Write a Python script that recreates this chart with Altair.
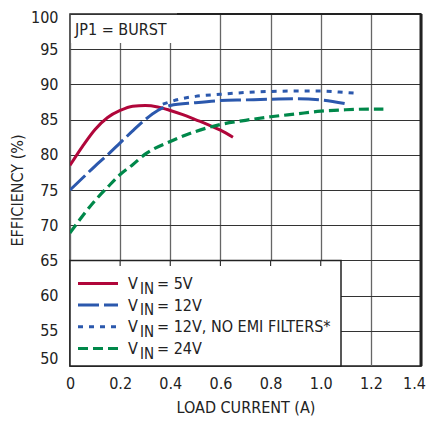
import altair as alt
import pandas as pd

# ---- data ----
red_x = [0, 0.05, 0.1, 0.15, 0.2, 0.25, 0.3, 0.35, 0.4, 0.45, 0.5, 0.55, 0.6, 0.65]
red_y = [78.5, 81.2, 83.6, 85.3, 86.3, 86.9, 87.0, 86.8, 86.3, 85.7, 85.0, 84.3, 83.5, 82.5]

b12_x = [0, 0.05, 0.1, 0.15, 0.2, 0.25, 0.3, 0.35, 0.4, 0.5, 0.6, 0.7, 0.8, 0.9, 1.0, 1.1]
b12_y = [75.0, 76.7, 78.4, 80.0, 81.7, 83.4, 85.0, 86.3, 87.0, 87.4, 87.7, 87.8, 87.9, 87.95, 87.8, 87.25]

emi_x = [0.37, 0.45, 0.5, 0.6, 0.7, 0.8, 0.9, 1.0, 1.1, 1.14]
emi_y = [87.2, 88.0, 88.3, 88.6, 88.85, 89.0, 89.05, 89.05, 88.85, 88.75]

g24_x = [0, 0.05, 0.1, 0.15, 0.2, 0.25, 0.3, 0.4, 0.5, 0.6, 0.7, 0.8, 0.9, 1.0, 1.1, 1.2, 1.25]
g24_y = [68.9, 71.3, 73.5, 75.4, 77.2, 78.6, 80.1, 81.9, 83.3, 84.3, 84.9, 85.4, 85.8, 86.2, 86.4, 86.5, 86.5]

x_ticks = [0, 0.2, 0.4, 0.6, 0.8, 1.0, 1.2, 1.4]
y_ticks = [50, 55, 60, 65, 70, 75, 80, 85, 90, 95, 100]
stub_ticks = [0.2, 0.4, 0.6, 0.8, 1.0]

legend_main = ["V", "V", "V", "V"]
legend_sub = ["IN", "IN", "IN", "IN"]
legend_rest = ["= 5V", "= 12V", "= 12V, NO EMI FILTERS*", "= 24V"]
box_title = "JP1 = BURST"

RED, BLUE, GREEN = "#B0063A", "#2B58AD", "#00884A"
FONT = "DejaVu Sans Condensed, Liberation Sans Narrow, sans-serif"
W, H = 351, 352

xsc = alt.Scale(domain=[0, 1.4], nice=False)
ysc = alt.Scale(domain=[50, 100], nice=False, zero=False)

x_axis = alt.Axis(values=x_ticks, title="LOAD CURRENT (A)",
                  labelExpr="datum.value == 0 ? '0' : format(datum.value, '.1f')",
                  grid=True, gridColor="#666666", gridWidth=1.3, ticks=False, domain=False,
                  labelFlush=False, labelOverlap=False,
                  labelOffset={"condition": [{"test": "datum.value == 1.4", "value": -7}],
                               "value": 0},
                  labelPadding=9, labelFontSize=16, labelFont=FONT, labelColor="#222",
                  titleFont=FONT, titleFontSize=16, titleFontWeight="normal", titleColor="#222",
                  titlePadding=8)
y_axis = alt.Axis(values=y_ticks, title="EFFICIENCY (%)",
                  grid=True, gridColor="#333333", gridWidth=1.2, ticks=False, domain=False,
                  labelOverlap=False, labelFlush=False,
                  labelPadding=12, labelFontSize=16, labelFont=FONT, labelColor="#222",
                  labelOffset={"condition": [{"test": "datum.value == 50", "value": -8},
                                             {"test": "datum.value == 100", "value": 3}],
                               "value": 0},
                  titleFont=FONT, titleFontSize=16, titleFontWeight="normal", titleColor="#222",
                  titleX=-53, titleY=H / 2, titleAngle=-90, titleAlign="center",
                  titleBaseline="middle")

X = lambda: alt.X("x:Q", scale=xsc, axis=x_axis)
Y = lambda: alt.Y("y:Q", scale=ysc, axis=y_axis)


def df(xs, ys):
    return pd.DataFrame({"x": xs, "y": ys})


one = pd.DataFrame({"_": [0]})

grid_layer = alt.Chart(df(red_x, red_y)).mark_point(opacity=0).encode(x=X(), y=Y())


def line(xs, ys, color, dash=None, width=3):
    kw = dict(color=color, strokeWidth=width, interpolate="monotone", clip=True)
    if dash:
        kw["strokeDash"] = dash
    return alt.Chart(df(xs, ys)).mark_line(**kw).encode(x=X(), y=Y())


red = line(red_x, red_y, RED)
b12 = line(b12_x, b12_y, BLUE, [21, 5])
emi = line(emi_x, emi_y, BLUE, [5, 6])
g24 = line(g24_x, g24_y, GREEN, [10, 5], 3.2)

# title box
tbox = alt.Chart(one).mark_rect(fill="white").encode(
    x=alt.value(1), x2=alt.value(107), y=alt.value(1), y2=alt.value(29))
ttext = alt.Chart(one).mark_text(text=box_title, font=FONT, fontSize=16, align="left",
                                 baseline="middle", color="#222").encode(
    x=alt.value(5), y=alt.value(16))

# legend box
lbox = alt.Chart(one).mark_rect(fill="white", stroke="#222", strokeWidth=1.5).encode(
    x=alt.value(0), x2=alt.value(271), y=alt.value(246.4), y2=alt.value(H))
stubs = alt.Chart(pd.DataFrame({"x": stub_ticks})).mark_rule(color="#333", strokeWidth=1.2).encode(
    x=X(), y=alt.value(246.4), y2=alt.value(252))

right_edge = alt.Chart(one).mark_rule(color="#222", strokeWidth=3).encode(
    x=alt.value(W), y=alt.value(0), y2=alt.value(H))
top_edge = alt.Chart(one).mark_rule(color="#222", strokeWidth=2).encode(
    x=alt.value(107), x2=alt.value(W), y=alt.value(0))

legend_layers = []
sym = [(RED, None), (BLUE, [21, 5]), (BLUE, [5, 6]), (GREEN, [10, 5])]
row_y = [269.5, 291, 312.7, 334.5]
for i in range(4):
    color, dash = sym[i]
    kw = dict(color=color, strokeWidth=3)
    if dash:
        kw["strokeDash"] = dash
    legend_layers.append(alt.Chart(one).mark_rule(**kw).encode(
        x=alt.value(8), x2=alt.value(48), y=alt.value(row_y[i])))
    legend_layers.append(alt.Chart(one).mark_text(
        text=legend_main[i], font=FONT, fontSize=16, align="left", baseline="middle",
        color="#222").encode(x=alt.value(58), y=alt.value(row_y[i] + 0.5)))
    legend_layers.append(alt.Chart(one).mark_text(
        text=legend_sub[i], font=FONT, fontSize=15, align="left", baseline="middle",
        color="#222").encode(x=alt.value(70), y=alt.value(row_y[i] + 5)))
    legend_layers.append(alt.Chart(one).mark_text(
        text=legend_rest[i], font=FONT, fontSize=16, align="left", baseline="middle",
        color="#222").encode(x=alt.value(87), y=alt.value(row_y[i] + 0.5)))

chart = alt.layer(
    grid_layer, tbox, ttext, lbox, stubs, red, b12, emi, g24, right_edge, top_edge,
    *legend_layers
).properties(
    width=W, height=H,
    autosize=alt.AutoSizeParams(type="none"),
    padding={"left": 62, "top": 6, "right": 7, "bottom": 50},
    background="white",
).configure_view(stroke="#222", strokeWidth=1.5)

chart.save("out.html", embed_options={"renderer": "svg", "actions": False})
